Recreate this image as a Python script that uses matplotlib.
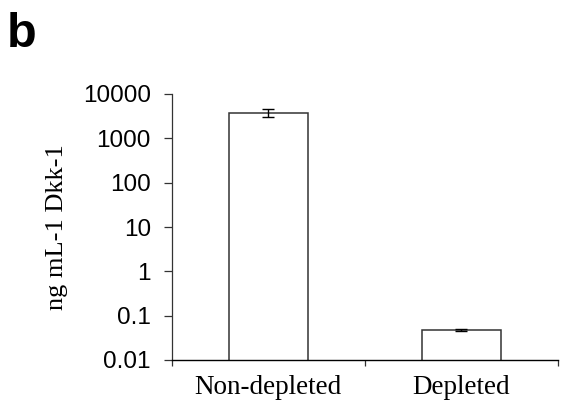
import matplotlib
matplotlib.use("Agg")
import matplotlib.pyplot as plt
from matplotlib.ticker import FixedLocator, NullFormatter
import numpy as np

categories = ["Non-depleted", "Depleted"]
values = [3800, 0.0475]
errors = [800, 0.002]
ytick_vals = [0.01, 0.1, 1, 10, 100, 1000, 10000]
ytick_labels = ["0.01", "0.1", "1", "10", "100", "1000", "10000"]

fig = plt.figure(figsize=(5.61, 4.13), dpi=100)
ax = fig.add_axes([171.7/561, 1-360/413, (558-171.7)/561, (360-94)/413])

x = np.arange(len(categories))
ax.bar(x, values, width=0.41, color="white", edgecolor="#333333", linewidth=1.1,
       bottom=0, zorder=2)
ax.errorbar(x, values, yerr=errors, fmt="none", ecolor="black", elinewidth=1.0,
            capsize=4.5, capthick=1.0, zorder=3)

ax.set_yscale("log")
ax.set_ylim(0.01, 10000)
ax.set_xlim(-0.5, 1.5)
ax.yaxis.set_major_locator(FixedLocator(ytick_vals))
ax.set_yticklabels(ytick_labels, fontfamily="Liberation Sans", fontsize=17.5)
ax.yaxis.set_minor_locator(FixedLocator([]))
ax.tick_params(axis="y", which="major", direction="out", length=6, width=0.9,
               color="#333333", pad=9)

ax.set_xticks(x)
ax.set_xticklabels(categories, fontfamily="Liberation Serif", fontsize=19.5)
ax.tick_params(axis="x", which="major", length=0, pad=11)
ax.xaxis.set_minor_locator(FixedLocator([-0.5, 0.5, 1.5]))
ax.xaxis.set_minor_formatter(NullFormatter())
ax.tick_params(axis="x", which="minor", direction="out", length=4, width=0.9,
               color="#333333")

for s in ["top", "right"]:
    ax.spines[s].set_visible(False)
ax.spines["left"].set_color("#333333")
ax.spines["bottom"].set_color("black")
ax.spines["left"].set_linewidth(0.9)
ax.spines["bottom"].set_linewidth(1.0)

ax.set_ylabel("ng mL-1 Dkk-1", fontfamily="Liberation Serif", fontsize=19, labelpad=11)

fig.text(7/561, 1-12/413, "b", fontfamily="Liberation Sans", fontweight="bold",
         fontsize=35, va="top", ha="left")

fig.savefig("out.png", dpi=100)
